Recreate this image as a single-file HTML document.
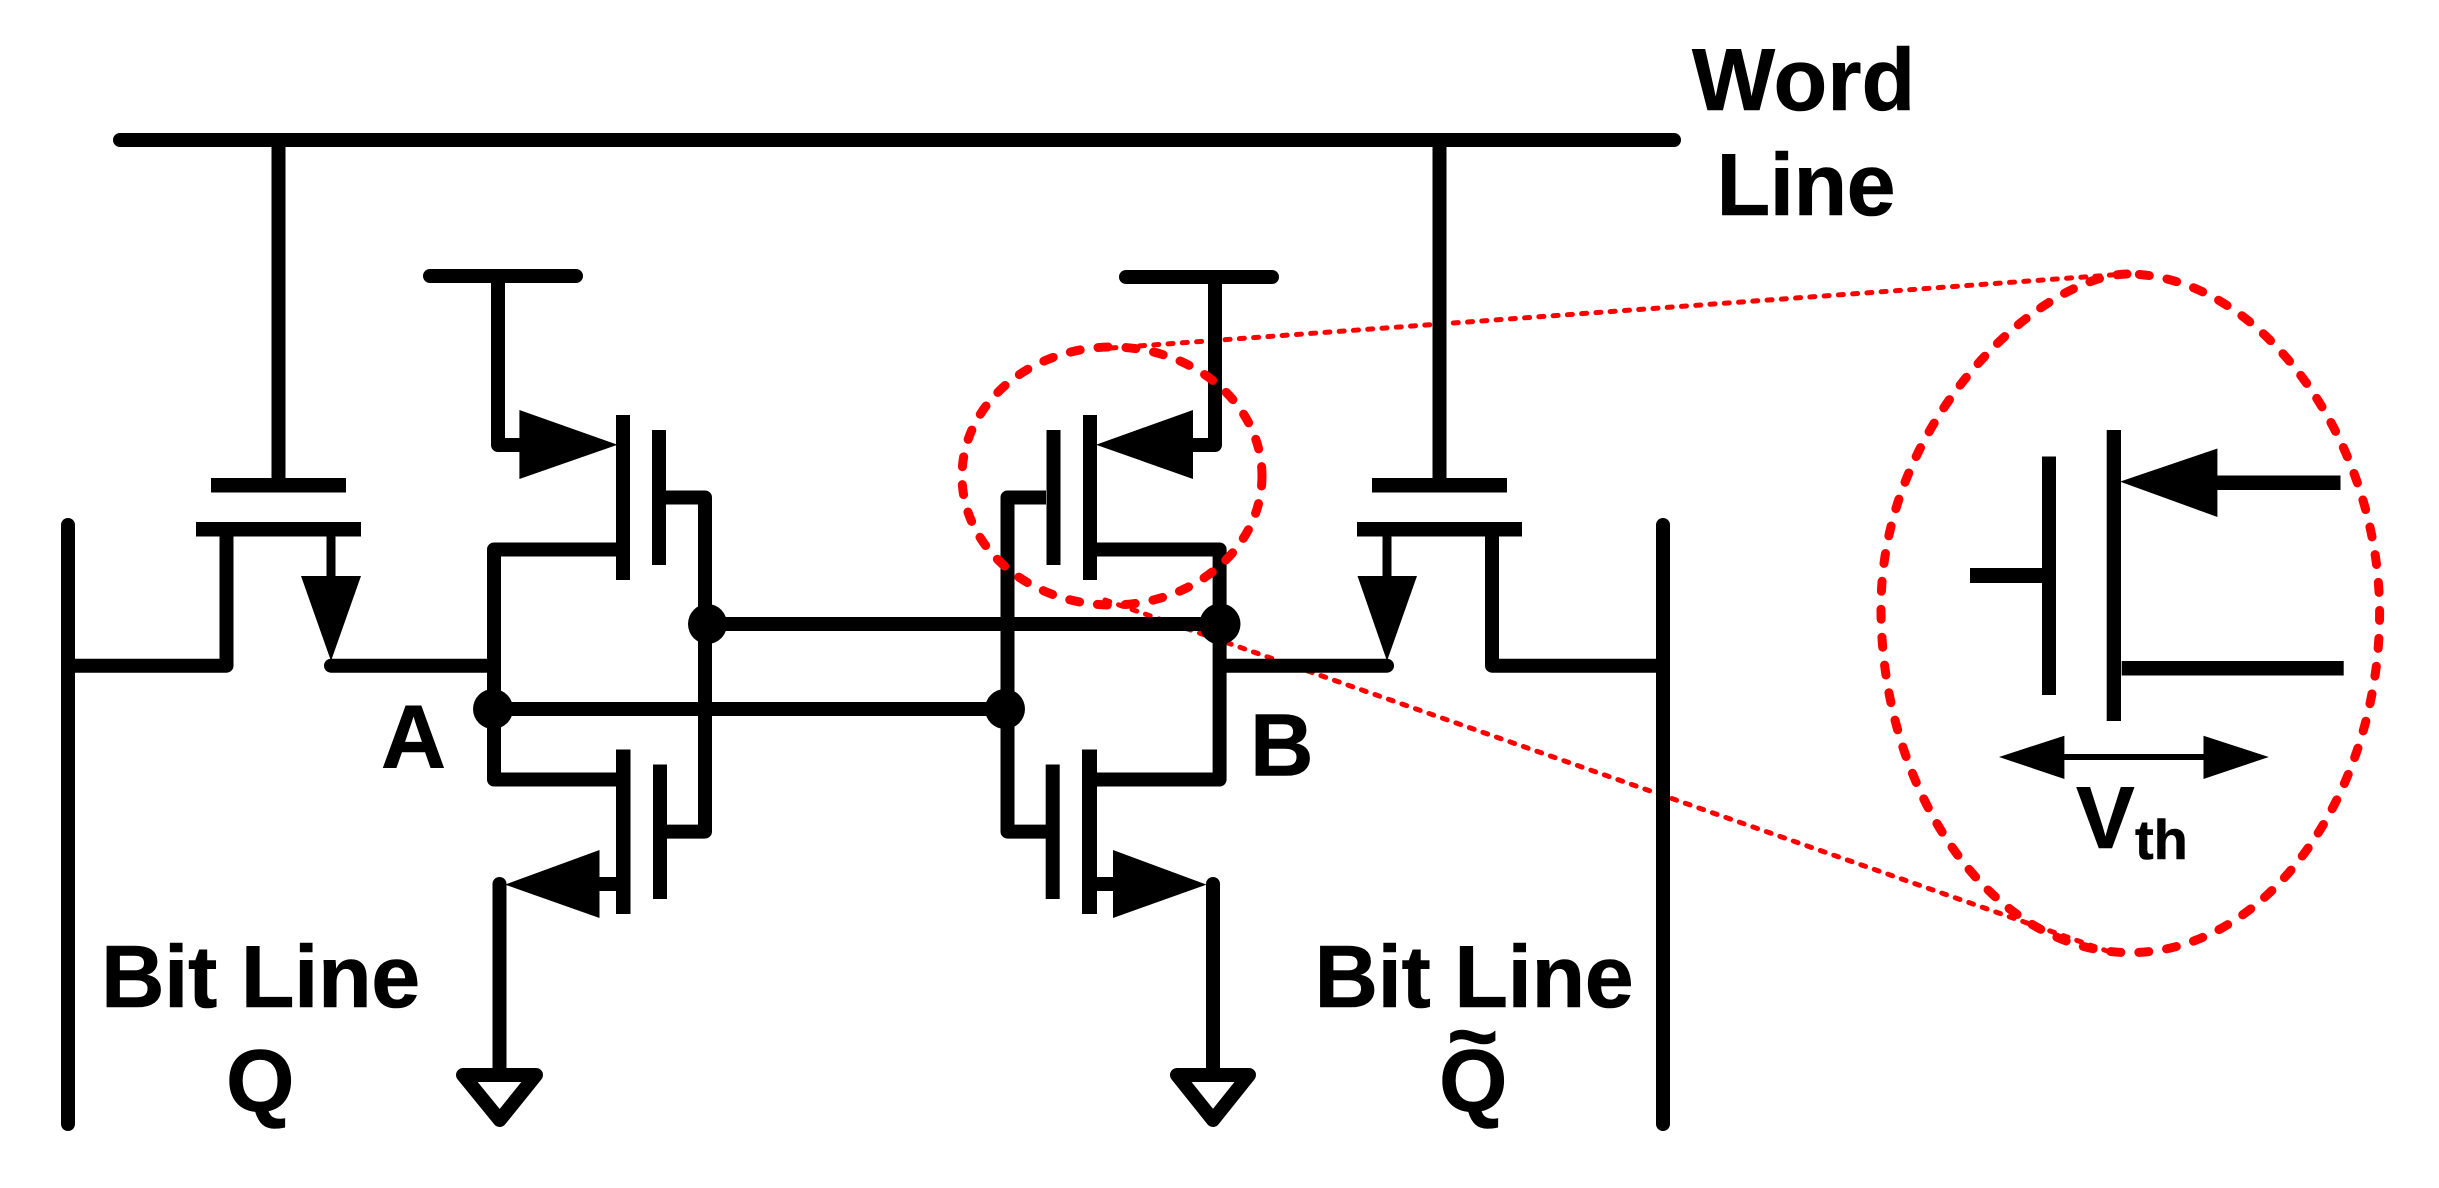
<!DOCTYPE html>
<html><head><meta charset="utf-8"><title>SRAM cell</title>
<style>
html,body{margin:0;padding:0;background:#fff;width:2439px;height:1188px;overflow:hidden}
svg{display:block}
text{font-family:"Liberation Sans",Arial,sans-serif;font-weight:700;fill:#000;font-size:88px;stroke:#000;stroke-width:.6px}
</style></head><body>
<svg width="2439" height="1188" viewBox="0 0 2439 1188" xmlns="http://www.w3.org/2000/svg">
<rect width="2439" height="1188" fill="#fff"/>
<!-- dotted zoom guide lines (behind black) -->
<g stroke="#f00" stroke-width="5" fill="none" stroke-linecap="round" stroke-dasharray="5 9.300">
<line x1="1111" y1="348" x2="2125" y2="274"/>
<line x1="1105" y1="600" x2="2110" y2="952"/>
</g>
<g stroke="#000" fill="none" stroke-width="14" stroke-linecap="butt" stroke-linejoin="round">
<!-- word line -->
<line x1="120" y1="140" x2="1674" y2="140" stroke-linecap="round"/>
<line x1="278.500" y1="140" x2="278.500" y2="480"/>
<line x1="1439.500" y1="140" x2="1439.500" y2="480"/>
<!-- bit lines -->
<line x1="68" y1="525" x2="68" y2="1124" stroke-linecap="round"/>
<line x1="1663" y1="525" x2="1663" y2="1124" stroke-linecap="round"/>
<!-- left access -->
<path d="M226.500 530V665.700H68"/>
<path d="M331 665.700H493.500" stroke-linecap="round"/>
<line x1="331" y1="530" x2="331" y2="580" stroke-width="9"/>
<!-- right access -->
<path d="M1492 530V665.700H1663"/>
<path d="M1387 665.700H1220" stroke-linecap="round"/>
<line x1="1387" y1="530" x2="1387" y2="580" stroke-width="9"/>
<!-- left inverter -->
<line x1="430" y1="276" x2="576" y2="276" stroke-linecap="round"/>
<path d="M498 276V445H520"/>
<path d="M616 549.500H494V779.500H616"/>
<path d="M666 497.500H705V831.600H666"/>
<line x1="616" y1="884" x2="598" y2="884"/>
<path d="M499.500 884V1075"/>
<line x1="499.500" y1="884" x2="499.500" y2="885" stroke-linecap="round"/>
<path d="M463 1075H536L499.700 1120Z"/>
<!-- right inverter -->
<line x1="1126" y1="277" x2="1272" y2="277" stroke-linecap="round"/>
<path d="M1215 277V445H1192"/>
<path d="M1097 549.500H1219.600V779.500H1097"/>
<path d="M1046 497.500H1007.500V831.600H1046"/>
<line x1="1097" y1="884" x2="1114" y2="884"/>
<path d="M1213 884V1075"/>
<line x1="1213" y1="884" x2="1213" y2="885" stroke-linecap="round"/>
<path d="M1177 1075H1249L1213 1120Z"/>
<!-- cross-coupling -->
<line x1="707" y1="624" x2="1220" y2="624"/>
<line x1="493" y1="709" x2="1005" y2="709"/>
</g>
<g fill="#000">
<!-- plates -->
<rect x="211" y="478" width="135" height="14.500"/>
<rect x="196" y="522" width="165" height="14.500"/>
<rect x="1372" y="478" width="135" height="14.500"/>
<rect x="1357" y="522" width="165" height="14.500"/>
<!-- access arrows -->
<polygon points="301,576 361,576 331,661"/>
<polygon points="1357.500,576 1417,576 1387,661"/>
<!-- transistor bars -->
<rect x="616" y="415" width="14" height="165"/>
<rect x="652" y="430" width="14" height="135"/>
<rect x="1083" y="415" width="14" height="165"/>
<rect x="1046.500" y="430" width="14" height="135"/>
<rect x="616" y="749.500" width="14.500" height="164.500"/>
<rect x="653" y="764.500" width="14" height="134.500"/>
<rect x="1082" y="749.500" width="15" height="164.500"/>
<rect x="1045.700" y="764.500" width="14" height="134.500"/>
<!-- MOS arrows -->
<polygon points="519.400,410 617.500,444.700 519.400,479"/>
<polygon points="1193,410 1096,444.700 1193,479"/>
<polygon points="599.500,850 505,884.600 599.500,918"/>
<polygon points="1113,850 1206.500,884.600 1113,918"/>
<!-- dots -->
<ellipse cx="707.500" cy="624" rx="19.500" ry="20"/>
<ellipse cx="493" cy="709" rx="20" ry="20"/>
<ellipse cx="1005" cy="709" rx="20" ry="20"/>
<ellipse cx="1220" cy="624" rx="20.500" ry="20.500"/>
<!-- magnified transistor -->
<rect x="2042" y="456.500" width="14" height="238.500"/>
<rect x="1970" y="568" width="72" height="15"/>
<rect x="2106.700" y="430" width="14.300" height="291"/>
<polygon points="2120,481.600 2217.400,448.500 2217.400,517"/>
<rect x="2217" y="475.500" width="123.500" height="14.500"/>
<rect x="2121.700" y="661" width="222" height="14.500"/>
<polygon points="1999,757 2064.400,735.700 2064.400,779"/>
<polygon points="2268.800,757 2203.500,735.700 2203.500,779"/>
<rect x="2064" y="754" width="140" height="6"/>
</g>
<!-- red ellipses -->
<g fill="none" stroke="#f00" stroke-width="9" stroke-linecap="round" stroke-dasharray="10 18">
<ellipse cx="1112" cy="476" rx="150" ry="129"/>
<path d="M2127 274C2040 276 1881 420 1881 608C1881 790 1990 952.600 2130 952.600C2270 952.600 2379.600 790 2379.600 613C2379.600 440 2260 274 2127 274Z"/>
</g>
<!-- labels -->
<text x="1692" y="110">Word</text>
<text x="1716.500" y="215" style="letter-spacing:-.6px">Line</text>
<text x="381" y="768" style="font-size:90px">A</text>
<text x="1250" y="775.500">B</text>
<text x="101" y="1007" style="letter-spacing:-.5px">Bit Line</text>
<text x="226" y="1111">Q</text>
<text x="1314.500" y="1007" style="letter-spacing:-.5px">Bit Line</text>
<text x="1439" y="1111">Q</text>
<text x="1447" y="1066">~</text>
<text x="2076" y="848">V</text>
<text x="2135" y="859" style="font-size:56px">th</text>
</svg>
</body></html>
